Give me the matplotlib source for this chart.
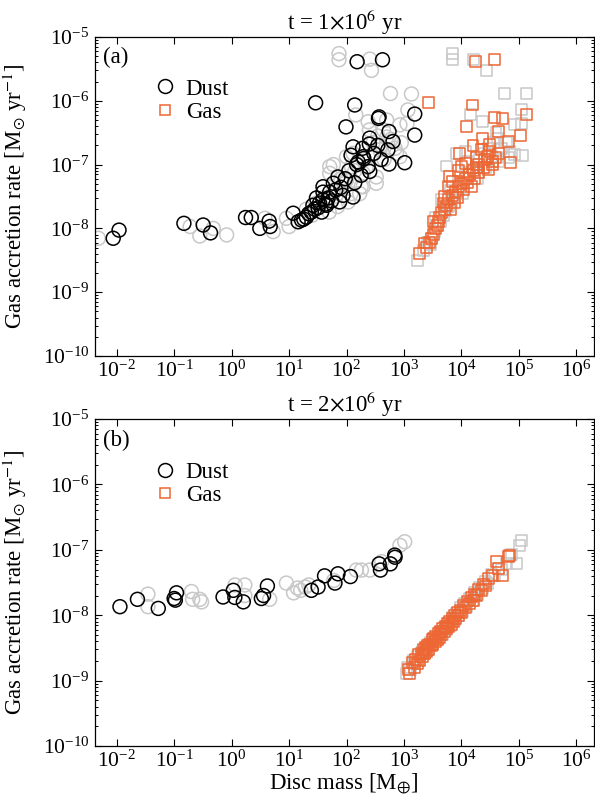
import matplotlib
matplotlib.use("Agg")
import matplotlib.pyplot as plt
from matplotlib.lines import Line2D
import numpy as np

plt.rcParams['font.family'] = ['Liberation Serif', 'DejaVu Serif']
plt.rcParams['mathtext.fontset'] = 'stix'

# ---------------- Panel (a): t = 1e6 yr ----------------
a_dust_grey_x = [0.0048, 0.19, 0.28, 0.48, 0.82, 3.8, 5.3, 9, 10, 51, 74, 74, 254, 272, 582, 1350,
                 1170, 145, 238, 850, 1130, 59, 440, 500, 290, 380, 740, 850, 100, 122, 195, 330,
                 100, 195, 330, 170, 107, 59, 51, 130, 500, 20, 30, 40, 60, 80, 160, 200, 300,
                 400, 700, 900, 350, 250, 450, 180, 120, 70, 50, 90, 25, 35, 45, 65, 140, 220, 600]
a_dust_grey_y = [7e-9, 1.07e-8, 7.6e-9, 1e-8, 7.9e-9, 1.44e-8, 8.9e-9, 1.44e-8, 1.07e-8, 9.3e-8,
                 5.5e-6, 4.4e-6, 4.5e-6, 3e-6, 1.3e-6, 1.28e-6, 7.2e-7, 6e-7, 4.7e-7, 4.2e-7,
                 4.4e-7, 1e-7, 3.5e-7, 2.7e-7, 2.2e-7, 1.7e-7, 1.5e-7, 1.33e-7, 1.33e-7, 9.3e-8,
                 7.3e-8, 6.4e-8, 5.7e-8, 4.5e-8, 5.1e-8, 3.5e-8, 2.6e-8, 3.5e-8, 7.3e-8, 1.5e-7,
                 5e-7, 2e-8, 2.5e-8, 3e-8, 4e-8, 6e-8, 1e-7, 1.2e-7, 1.5e-7, 2e-7, 1.8e-7, 2.2e-7,
                 2.8e-7, 3.5e-7, 1.2e-7, 4.5e-8, 3.5e-8, 2.2e-8, 1.8e-8, 5e-8, 1.6e-8, 2.2e-8,
                 2.7e-8, 3.2e-8, 8e-8, 9e-8, 2.5e-7]

a_dust_x = [0.0087, 0.011, 0.148, 0.32, 0.43, 1.75, 2.2, 3.1, 4.5, 4.7, 11.8, 14.4, 29,
            16.5, 20, 24.5, 26, 32, 39, 39, 39, 51, 87, 130, 76, 45, 37, 59, 71, 139, 254, 238,
            550, 1030, 525, 195, 190, 130, 254, 645, 1540, 550, 98, 1540, 369, 360, 139, 153, 423,
            22, 28, 34, 43, 48, 55, 65, 80, 95, 110, 160, 200, 300, 350, 400, 180, 150, 120,
            250, 18, 30]
a_dust_y = [7.0e-9, 9.4e-9, 1.2e-8, 1.13e-8, 8.5e-9, 1.48e-8, 1.48e-8, 1.0e-8, 1.3e-8, 1.07e-8,
            1.73e-8, 1.27e-8, 9.3e-7, 1.35e-8, 1.5e-8, 1.8e-8, 2.3e-8, 2.1e-8, 2.8e-8, 3.7e-8,
            4.5e-8, 3.7e-8, 3.3e-8, 3.1e-8, 2.6e-8, 2.3e-8, 1.8e-8, 5.1e-8, 6.4e-8, 5.2e-8, 7.8e-8,
            9.3e-8, 1.02e-7, 1.07e-7, 1.7e-7, 1.33e-7, 1.8e-7, 1.9e-7, 2.6e-7, 2.3e-7, 2.9e-7,
            3.3e-7, 3.9e-7, 6.2e-7, 5.6e-7, 5.3e-7, 8.6e-7, 4.1e-6, 4.4e-6,
            1.7e-8, 2.0e-8, 2.5e-8, 2.4e-8, 3.0e-8, 2.7e-8, 4.0e-8, 4.4e-8, 6.0e-8, 8.0e-8,
            1.1e-7, 1.25e-7, 1.5e-7, 2.0e-7, 1.2e-7, 6.8e-8, 1.0e-7, 1.4e-7, 2.1e-7, 1.4e-8, 3.0e-8]

a_gas_grey_x = [7100, 7100, 16000, 27000, 56000, 135000, 110000, 14400, 23700, 85000, 110000,
                117000, 83000, 8100, 5600, 1700, 2200, 2600, 3000, 3400, 3800, 4300, 4800, 5300,
                6000, 6800, 7500, 8500, 9500, 11000, 12500, 14000, 16000, 18000, 21000, 25000,
                30000, 36000, 42000, 50000, 60000, 70000, 4500, 9000, 13000, 20000, 28000, 34000,
                2900, 3600, 6500, 10500, 19000, 26000, 45000, 65000, 40000, 12000]
a_gas_grey_y = [5.5e-6, 4.4e-6, 4.5e-6, 3e-6, 1.3e-6, 1.28e-6, 7.2e-7, 6e-7, 4.7e-7, 4.2e-7,
                4.4e-7, 1.4e-7, 1.45e-7, 1.5e-7, 9.5e-8, 3.1e-9, 4.5e-9, 6e-9, 7e-9, 9e-9, 1.1e-8,
                1.3e-8, 1.6e-8, 1.9e-8, 2.2e-8, 2.6e-8, 3e-8, 3.6e-8, 4.3e-8, 5e-8, 6e-8, 7e-8,
                8.5e-8, 1e-7, 1.2e-7, 1.5e-7, 1.8e-7, 2.2e-7, 2.6e-7, 1.8e-7, 2.2e-7, 1.6e-7,
                2.8e-8, 6.5e-8, 1.1e-7, 7.5e-8, 1.2e-7, 1.35e-7, 5.5e-9, 1.5e-8, 4e-8, 3.5e-8,
                6e-8, 9e-8, 1.1e-7, 1.3e-7, 3.2e-7, 1.6e-7]

a_gas_x = [17700, 38000, 2640, 15500, 138000, 38000, 51000, 12200, 44000, 106000, 23700, 65000,
           15900, 31000, 31000, 9300, 72000, 10000, 6300, 5900, 1870, 2300,
           2500, 2800, 3000, 3300, 3500, 3800, 4000, 4200, 4500, 5000, 5500, 6000, 7000, 8000,
           9000, 10000, 12000, 14000, 16000, 18000, 20000, 25000, 28000, 35000, 40000, 45000,
           22000, 5000, 3200, 4800, 6500, 7500, 8500, 11000, 13000, 15000, 17000, 20000, 24000,
           30000, 35000, 12000, 18000, 9000, 7000]
a_gas_y = [4.1e-6, 4.4e-6, 9.3e-7, 8.6e-7, 6.2e-7, 5.5e-7, 5.3e-7, 3.9e-7, 3.3e-7, 2.9e-7,
           2.6e-7, 2.3e-7, 2e-7, 2.1e-7, 1.6e-7, 1.47e-7, 1.07e-7, 9.3e-8, 6.4e-8, 4.5e-8,
           4.1e-9, 5.9e-9,
           5e-9, 6e-9, 7e-9, 8e-9, 1e-8, 1.1e-8, 1.3e-8, 1.5e-8, 1.8e-8, 2e-8, 2.3e-8, 2.8e-8,
           3.3e-8, 3.8e-8, 4.5e-8, 5e-8, 6e-8, 7e-8, 8e-8, 9e-8, 1e-7, 1.2e-7, 1.35e-7, 1.1e-7,
           1.3e-7, 1.5e-7, 1.7e-7, 3.2e-8, 1.3e-8, 2.5e-8, 2e-8, 2.5e-8, 3e-8, 4e-8, 5.2e-8,
           4.5e-8, 6e-8, 7.5e-8, 9e-8, 8.5e-8, 1e-7, 1.05e-7, 1.3e-7, 8e-8, 5.5e-8]

# ---------------- Panel (b): t = 2e6 yr ----------------
b_dust_grey_x = [0.035, 0.035, 0.2, 0.21, 0.28, 1.15, 1.7, 1.7, 4.6, 9, 14, 16, 19, 148, 182,
                 254, 410, 850, 1030, 0.3, 12, 22, 60]
b_dust_grey_y = [2.1e-8, 1.35e-8, 2.3e-8, 1.75e-8, 1.75e-8, 2.9e-8, 2.9e-8, 2e-8, 1.75e-8,
                 3.1e-8, 2.6e-8, 2.4e-8, 2.7e-8, 4.9e-8, 4.9e-8, 4.9e-8, 6.6e-8, 1.17e-7,
                 1.33e-7, 1.6e-8, 2.2e-8, 2.9e-8, 3.4e-8]

b_dust_x = [0.0114, 0.023, 0.053, 0.1, 0.105, 0.11, 0.71, 1.07, 1.14, 1.6, 3.3, 3.6, 4.2,
            24.5, 32, 41.5, 63, 71, 117, 370, 390, 580, 690, 700]
b_dust_y = [1.35e-8, 1.75e-8, 1.27e-8, 1.8e-8, 1.7e-8, 2.2e-8, 1.9e-8, 2.4e-8, 1.87e-8,
            1.6e-8, 1.8e-8, 2.0e-8, 2.8e-8, 2.4e-8, 2.7e-8, 4e-8, 3.1e-8, 4.3e-8, 3.9e-8,
            6.1e-8, 4.9e-8, 6.1e-8, 8.3e-8, 7.7e-8]

b_gas_grey_x = [1100, 1150, 1300, 1450, 1550, 1750, 1900, 2100, 2300, 2500, 2700, 2900, 3200,
                3500, 3900, 4200, 4600, 5000, 5400, 5900, 6400, 7000, 7600, 8200, 9000, 9800,
                10500, 11500, 12500, 14000, 15500, 17000, 19000, 21000, 23000, 26000, 29000,
                33000, 38000, 44000, 50000, 60000, 75000, 91000, 103000, 110000]
b_gas_grey_y = [1.3e-9, 1.6e-9, 1.5e-9, 2.0e-9, 1.8e-9, 2.3e-9, 2.1e-9, 2.8e-9, 2.6e-9,
                3.2e-9, 3.0e-9, 3.8e-9, 3.6e-9, 4.6e-9, 4.2e-9, 5.5e-9, 5.0e-9, 6.6e-9, 6.0e-9,
                7.6e-9, 7.0e-9, 9.2e-9, 8.3e-9, 1.08e-8, 9.8e-9, 1.3e-8, 1.15e-8, 1.5e-8,
                1.35e-8, 1.8e-8, 1.7e-8, 2.2e-8, 2.1e-8, 2.7e-8, 2.6e-8, 3.3e-8, 3.1e-8, 4.2e-8,
                4.0e-8, 5.2e-8, 5.0e-8, 6.2e-8, 8.5e-8, 6.2e-8, 1.17e-7, 1.4e-7]

b_gas_x = [1200, 1250, 1400, 1500, 1600, 1700, 1800, 1900, 2000, 2100, 2200, 2300, 2400, 2500,
           2600, 2700, 2800, 3000, 3100, 3200, 3300, 3500, 3600, 3800, 4000, 4100, 4300, 4500,
           4700, 5000, 5200, 5500, 5800, 6000, 6300, 6600, 7000, 7300, 7700, 8000, 8500, 9000,
           9500, 10000, 11000, 12000, 13000, 14000, 15000, 16000, 17000, 18000, 20000, 22000,
           24000, 26000, 30000, 35000, 41000, 45000, 51000, 65000, 69000]
b_gas_y = [1.5e-9, 1.3e-9, 1.9e-9, 1.6e-9, 2.1e-9, 1.8e-9, 2.5e-9, 2.0e-9, 2.6e-9, 2.3e-9,
           3.0e-9, 2.6e-9, 3.2e-9, 2.8e-9, 3.5e-9, 3.0e-9, 3.6e-9, 3.4e-9, 4.2e-9, 3.6e-9,
           4.4e-9, 4.0e-9, 4.8e-9, 4.3e-9, 5.3e-9, 4.6e-9, 5.6e-9, 5.0e-9, 6.2e-9, 5.6e-9,
           6.8e-9, 6.2e-9, 7.4e-9, 6.6e-9, 8.0e-9, 7.3e-9, 9.0e-9, 8.0e-9, 9.8e-9, 8.8e-9,
           1.1e-8, 1.0e-8, 1.2e-8, 1.1e-8, 1.4e-8, 1.3e-8, 1.65e-8, 1.5e-8, 1.9e-8, 1.7e-8,
           2.1e-8, 2.0e-8, 2.5e-8, 2.4e-8, 3.0e-8, 2.8e-8, 3.7e-8, 4.0e-8, 6.6e-8, 5.2e-8,
           4.1e-8, 8.0e-8, 8.3e-8]

titles = [r"t = 1$\times$10$^6$ yr", r"t = 2$\times$10$^6$ yr"]
panel_tags = ["(a)", "(b)"]
xticks = [1e-2, 1e-1, 1e0, 1e1, 1e2, 1e3, 1e4, 1e5, 1e6]
yticks = [1e-10, 1e-9, 1e-8, 1e-7, 1e-6, 1e-5]

ORANGE = '#EE6633'
GREY = '#C8C8C8'
FS = 16.5
TFS = 15.5

fig = plt.figure(figsize=(5.95, 7.96), dpi=100)
ax_a = fig.add_axes([0.1597, 0.5528, 0.838, 0.4007])
ax_b = fig.add_axes([0.1597, 0.0628, 0.838, 0.4108])

panels = [
    (ax_a, a_dust_grey_x, a_dust_grey_y, a_dust_x, a_dust_y, a_gas_grey_x, a_gas_grey_y, a_gas_x, a_gas_y),
    (ax_b, b_dust_grey_x, b_dust_grey_y, b_dust_x, b_dust_y, b_gas_grey_x, b_gas_grey_y, b_gas_x, b_gas_y),
]

for i, (ax, dgx, dgy, dx, dy, ggx, ggy, gx, gy) in enumerate(panels):
    ax.scatter(dgx, dgy, s=100, marker='o', facecolors='none', edgecolors=GREY, linewidths=1.1, zorder=2)
    ax.scatter(ggx, ggy, s=62, marker='s', facecolors='none', edgecolors=GREY, linewidths=1.1, zorder=2)
    ax.scatter(dx, dy, s=100, marker='o', facecolors='none', edgecolors='black', linewidths=1.1, zorder=3)
    ax.scatter(gx, gy, s=62, marker='s', facecolors='none', edgecolors=ORANGE, linewidths=1.1, zorder=3)
    ax.set_xscale('log')
    ax.set_yscale('log')
    ax.set_xlim(4.2e-3, 2e6)
    ax.set_ylim(1e-10, 1e-5)
    ax.set_xticks(xticks)
    ax.set_yticks(yticks)
    ax.tick_params(which='both', direction='in', top=True, right=True, labelsize=TFS)
    ax.tick_params(which='major', length=5, width=0.8, pad=4)
    ax.tick_params(axis='x', which='major', pad=3)
    ax.tick_params(which='minor', length=2.5, width=0.7)
    for sp in ax.spines.values():
        sp.set_linewidth(0.9)
    ax.set_ylabel(r"Gas accretion rate [M$_{\odot}$ yr$^{-1}$]", fontsize=FS)
    ax.set_title(titles[i], fontsize=FS, pad=3)
    ax.text(0.016, 0.935, panel_tags[i], transform=ax.transAxes, fontsize=FS, va='center', ha='left')
    handles = [Line2D([], [], ls='none', marker='o', ms=10, mfc='none', mec='black', mew=1.1),
               Line2D([], [], ls='none', marker='s', ms=7, mfc='none', mec=ORANGE, mew=1.1)]
    ax.legend(handles, ['Dust', 'Gas'], loc='upper left', bbox_to_anchor=(0.12, 0.87),
              frameon=False, fontsize=FS, handlelength=0.9, handletextpad=0.45,
              labelspacing=0.1, borderpad=0, borderaxespad=0)

ax_b.set_xlabel(r"Disc mass [M$_{\oplus}$]", fontsize=FS)
ax_a.yaxis.set_label_coords(-0.132, 0.5)
ax_b.yaxis.set_label_coords(-0.132, 0.5)
ax_b.xaxis.set_label_coords(0.5, -0.078)

fig.savefig("out.png", dpi=100)
